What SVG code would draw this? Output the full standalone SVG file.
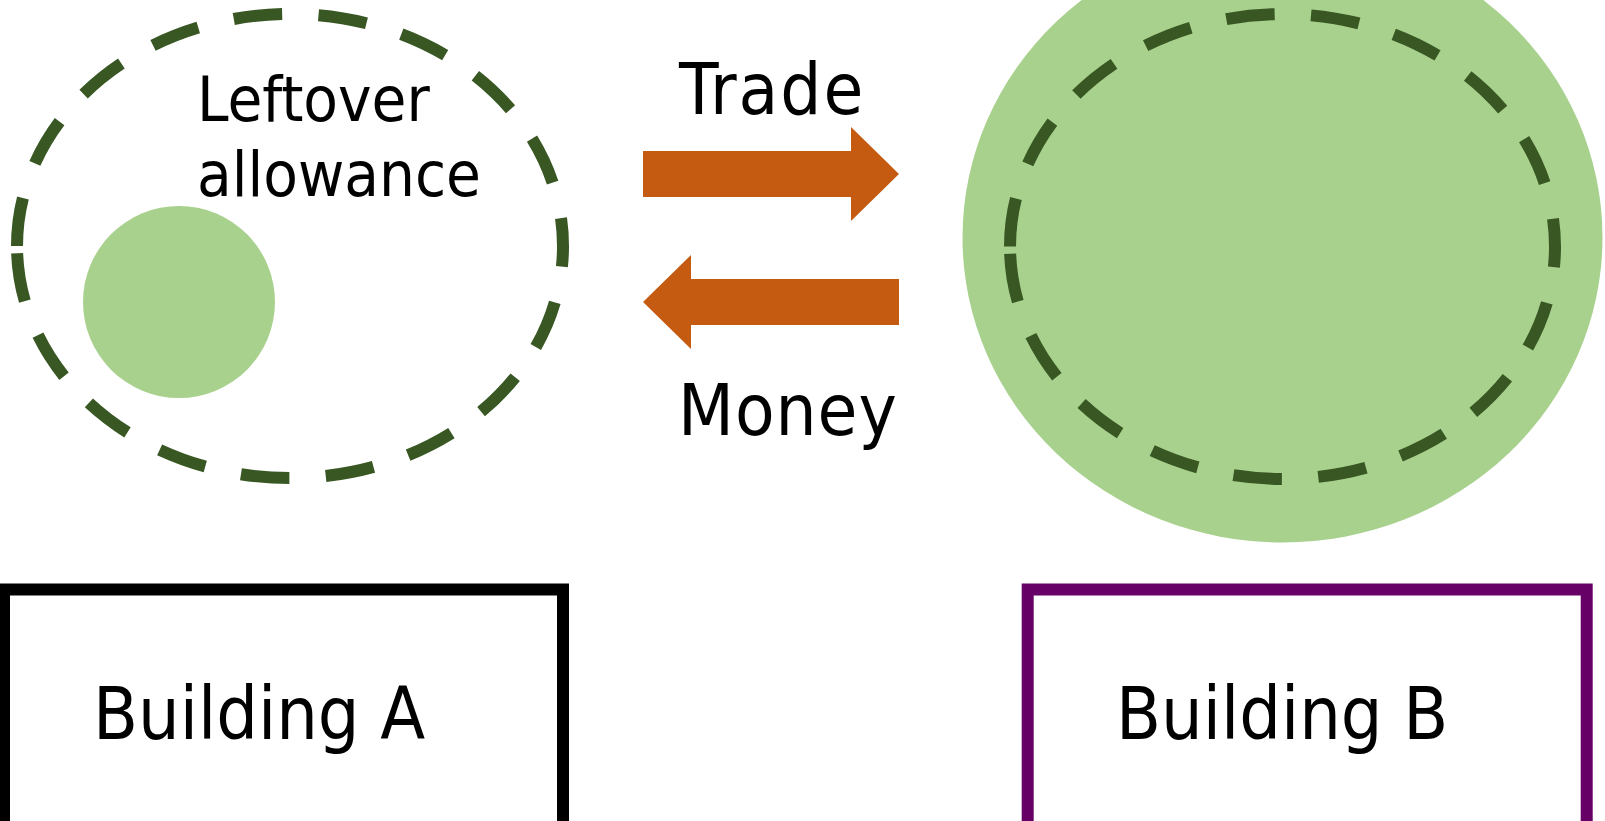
<svg xmlns="http://www.w3.org/2000/svg" width="1605" height="821" viewBox="0 0 1605 821">
<style>
.lbl{font-family:"DejaVu Sans Condensed","DejaVu Sans","Liberation Sans",sans-serif;font-stretch:condensed;fill:#000}
.dash{fill:none;stroke:#385723;stroke-width:12;stroke-dasharray:30.6 23}
.blob{fill:#A9D18E}
.arrow{fill:#C55A11}
.box{fill:#fff;stroke-width:12}
</style>
<rect width="1605" height="821" fill="#fff"/>
<g id="allowance-a">
  <path class="dash" pathLength="1000" d="M17,246 A273,232 0 0 1 563,246 A273,232 0 0 1 17,246 Z"/>
  <circle class="blob" cx="179" cy="302" r="96"/>
  <text class="lbl" x="197" y="121" font-size="63">Leftover</text>
  <text class="lbl" x="197" y="196" font-size="63">allowance</text>
</g>
<g id="allowance-b">
  <ellipse class="blob" cx="1282.5" cy="237.5" rx="320" ry="305"/>
  <path class="dash" pathLength="1000" d="M1010,246.5 A272.5,232.5 0 0 1 1555,246.5 A272.5,232.5 0 0 1 1010,246.5 Z"/>
</g>
<g id="connectors">
  <polygon class="arrow" points="643,151 851,151 851,127 899,174 851,221 851,197 643,197"/>
  <polygon class="arrow" points="899,279 691,279 691,255 643,302 691,349 691,325 899,325"/>
  <text class="lbl" x="679" y="114" font-size="72" letter-spacing="2">Trade</text>
  <text class="lbl" x="678" y="435" font-size="72" letter-spacing="1">Money</text>
</g>
<g id="building-a">
  <rect class="box" x="4" y="589.5" width="559" height="300" stroke="#000"/>
  <text class="lbl" x="93" y="739" font-size="73">Building A</text>
</g>
<g id="building-b">
  <rect class="box" x="1027.7" y="589.5" width="559" height="300" stroke="#660066"/>
  <text class="lbl" x="1116" y="739" font-size="73">Building B</text>
</g>
</svg>
